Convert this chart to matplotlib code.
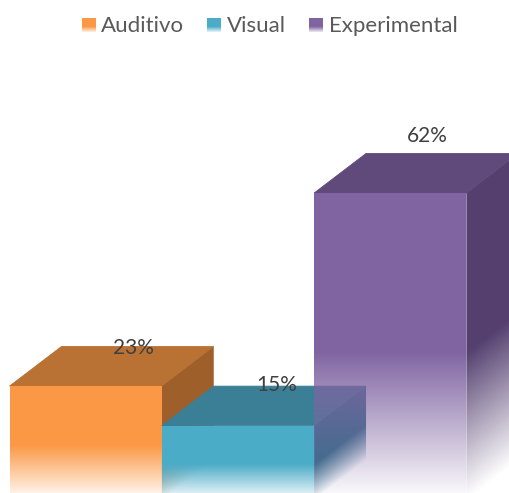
import numpy as np
import matplotlib
matplotlib.use('Agg')
import matplotlib.pyplot as plt
from matplotlib.colors import to_rgb
from matplotlib.patches import Polygon

# dados do grafico
categorias = ['Auditivo', 'Visual', 'Experimental']
valores = [23, 15, 62]
rotulos = ['23%', '15%', '62%']

cores_frente = ['#fb9846', '#4bacc8', '#8064a2']
cores_topo = ['#b97134', '#3b7f96', '#604a7b']
cores_lado = ['#9e5f2a', '#2f6f88', '#543f6f']

# profundidade do efeito 3D, em unidades dos eixos
prof_x = 0.341
prof_y = 8.0
inicio_fade = 0.48  # fracao da altura onde a barra comeca a sumir

plt.rcParams['font.family'] = ['Lato', 'DejaVu Sans']

fig = plt.figure(figsize=(5.09, 4.93), dpi=100)
ax = fig.add_axes([0, 0, 1, 1])
xlim = (-9.5 / 152.3, 499.5 / 152.3)
ylim = (1.41, 101.0)
ax.axis('off')

# grade de pixels usada nos gradientes
gx = xlim[0] + (np.arange(509) + 0.5) / 509 * (xlim[1] - xlim[0])
gy = ylim[1] + (np.arange(493) + 0.5) / 493 * (ylim[0] - ylim[1])
X, Y = np.meshgrid(gx, gy)


def desenha_face(pontos, cor, alfa, ordem):
    rgba = np.zeros(X.shape + (4,))
    rgba[..., :3] = to_rgb(cor)
    rgba[..., 3] = alfa
    im = ax.imshow(rgba, extent=(xlim[0], xlim[1], ylim[0], ylim[1]), origin='upper',
                   aspect='auto', interpolation='nearest', zorder=ordem)
    im.set_clip_path(Polygon(pontos, transform=ax.transData))


for i, valor in enumerate(valores):
    x0, x1 = i, i + 1
    fade = inicio_fade * valor
    ordem = 2 + i
    alfa_frente = np.clip(Y / fade, 0, 1)
    alfa_lado = np.clip((Y - (X - x1) / prof_x * prof_y) / fade, 0, 1)

    # topo
    ax.add_patch(Polygon([(x0, valor), (x0 + prof_x, valor + prof_y), (x1 + prof_x, valor + prof_y), (x1, valor)],
                         facecolor=cores_topo[i], edgecolor=cores_topo[i], linewidth=0.6, zorder=ordem))
    # lado direito
    desenha_face([(x1, 0), (x1, valor), (x1 + prof_x, valor + prof_y), (x1 + prof_x, prof_y)],
                 cores_lado[i], alfa_lado, ordem)
    # frente
    desenha_face([(x0, 0), (x0, valor), (x1, valor), (x1, 0)],
                 cores_frente[i], alfa_frente, ordem)

ax.set_xlim(xlim)
ax.set_ylim(ylim)

# rotulos de dados (posicao em pixels, como no original)
ax_px = fig.add_axes([0, 0, 1, 1], facecolor='none')
ax_px.set_xlim(0, 509)
ax_px.set_ylim(493, 0)
ax_px.axis('off')

pos_rotulos = [(133, 348), (277, 385), (427, 136)]
for texto, (px, py) in zip(rotulos, pos_rotulos):
    ax_px.text(px, py, texto, ha='center', va='center', fontsize=15, color='#404040')

# legenda
caixas_x = [82, 207, 309]
textos_x = [101, 227, 329]
altura = np.linspace(1, 0, 14)[:, None]
for nome, cor, cx, tx in zip(categorias, cores_frente, caixas_x, textos_x):
    amostra = np.zeros((14, 14, 4))
    amostra[..., :3] = to_rgb(cor)
    amostra[..., 3] = np.clip((altura + 0.1) / inicio_fade, 0, 1)
    ax_px.imshow(amostra, extent=(cx, cx + 14, 32, 18), aspect='auto', interpolation='nearest')
    ax_px.text(tx, 26, nome, ha='left', va='center', fontsize=16, color='#595959')
ax_px.set_xlim(0, 509)
ax_px.set_ylim(493, 0)

fig.savefig('out.png', dpi=100)
